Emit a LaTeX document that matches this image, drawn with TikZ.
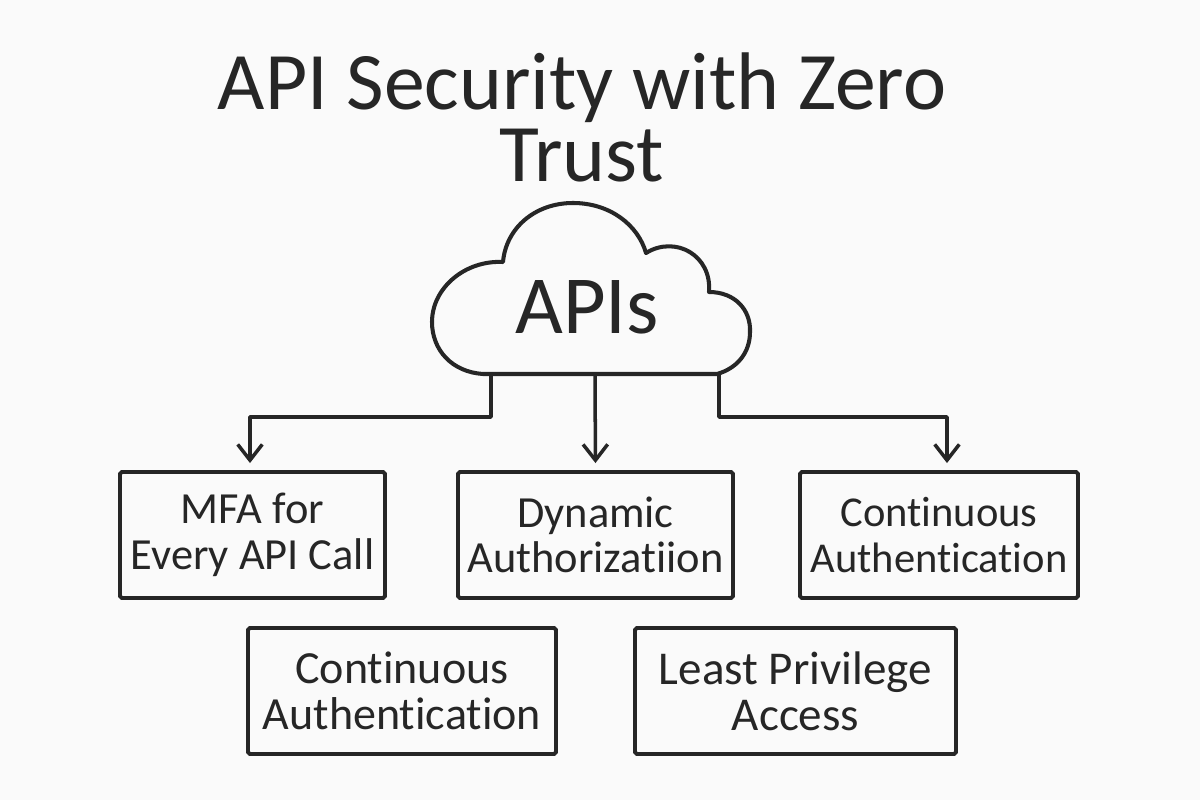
\documentclass[tikz,border=0pt]{standalone}
\usepackage{fontspec}
\setmainfont[Ligatures=NoCommon]{Carlito}
\usetikzlibrary{arrows.meta}
\definecolor{paper}{HTML}{FAFAFA}
\definecolor{ink}{HTML}{262626}
\tikzset{
    apibox/.style={draw=ink,line width=2.2pt,rounded corners=1pt,align=center,text=ink,inner sep=0pt,
        minimum height=2.52cm,font=\fontsize{25.3}{26}\selectfont},
    apilink/.style={draw=ink,line width=2pt,line join=round,-{Straight Barb[length=9pt,width=14pt,line width=2pt]},shorten >=4pt}
}
\begin{document}
\begin{tikzpicture}[x=0.02cm,y=-0.02cm]
    \useasboundingbox (0,0) rectangle (1200,800);
    \fill[paper] (0,0) rectangle (1200,800);
    \node[text=ink,align=center,font=\fontsize{46.5}{41}\selectfont] (title) at (582,117) {API Security with Zero\\Trust};
    \draw[ink,line width=2.3pt,line join=round,fill=paper] (483,374)
        .. controls (452,372) and (432,350) .. (432,322)
        .. controls (432,288) and (465,260) .. (503,262)
        .. controls (506,228) and (535,203) .. (573,203)
        .. controls (610,203) and (638,225) .. (646,253)
        .. controls (675,235) and (712,255) .. (709,292)
        .. controls (735,292) and (751,310) .. (750,332)
        .. controls (750,352) and (738,368) .. (717,374) -- cycle;
    \node[text=ink,font=\fontsize{47}{47}\selectfont] (apis) at (587,307) {APIs};
    \coordinate (apileft) at (491,374);
    \coordinate (apimid) at (595,374);
    \coordinate (apiright) at (719,374);
    \node[apibox,minimum width=5.3cm] (mfa) at (252.5,535) {MFA for\\Every API Call};
    \node[apibox,minimum width=5.5cm] (dyn) at (595.5,535) {Dynamic\\Authorizatiion};
    \node[apibox,minimum width=5.56cm,font=\fontsize{24.2}{26}\selectfont] (cont) at (939,535) {Continuous\\Authentication};
    \node[apibox,minimum width=6.16cm,font=\fontsize{26.2}{26}\selectfont] (conta) at (402,691) {Continuous\\Authentication};
    \node[apibox,minimum width=6.42cm,font=\fontsize{26.8}{26}\selectfont] (least) at (795.5,691) {Least Privilege\\Access};
    \draw[apilink] (apileft) -- ++(0,43) -| ([xshift=-0.05cm]mfa.north);
    \draw[apilink] (apimid) -- (dyn.north);
    \draw[apilink] (apiright) -- ++(0,43) -| ([xshift=0.16cm]cont.north);
\end{tikzpicture}
\end{document}
